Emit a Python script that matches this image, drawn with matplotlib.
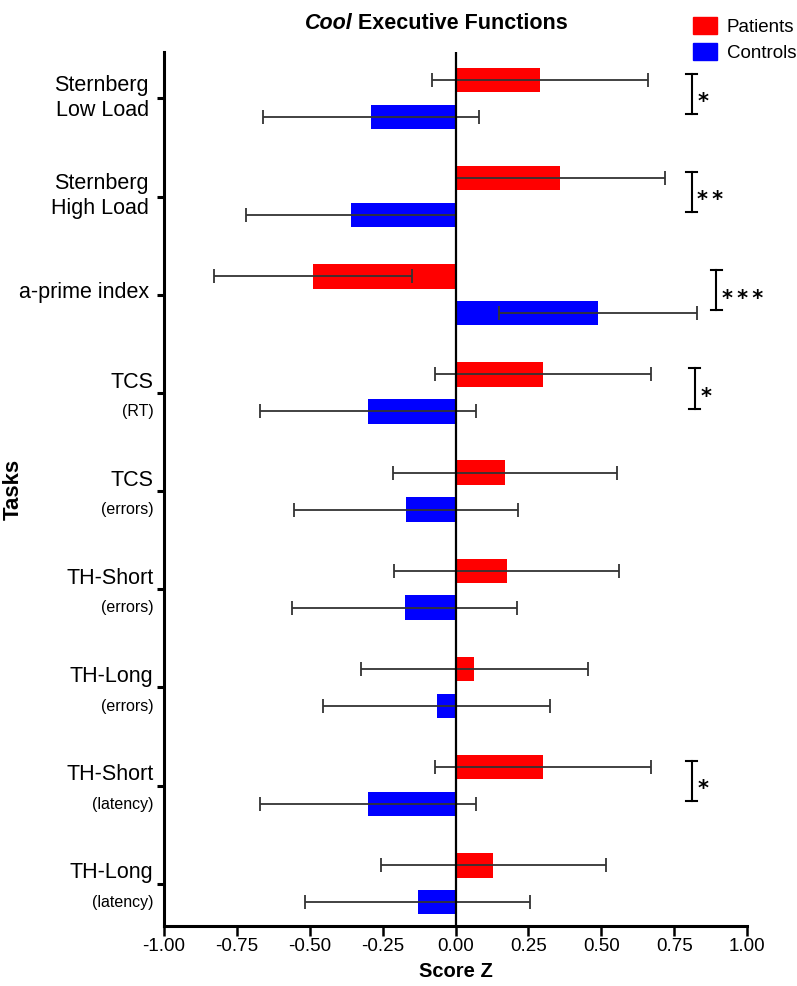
import numpy as np
import matplotlib.pyplot as plt
import matplotlib.transforms as mtransforms
from matplotlib.patches import Patch

plt.rcParams['font.family'] = ['Liberation Sans', 'DejaVu Sans']

# task labels: (main line, sub line)
tasks_main = ['Sternberg\nLow Load', 'Sternberg\nHigh Load', 'a-prime index', 'TCS', 'TCS',
              'TH-Short', 'TH-Long', 'TH-Short', 'TH-Long']
tasks_sub = ['', '', '', '(RT)', '(errors)', '(errors)', '(errors)', '(latency)', '(latency)']

patients = [0.29, 0.36, -0.49, 0.30, 0.17, 0.175, 0.065, 0.30, 0.13]
patients_err = [0.37, 0.36, 0.34, 0.37, 0.385, 0.385, 0.39, 0.37, 0.385]
controls = [-0.29, -0.36, 0.49, -0.30, -0.17, -0.175, -0.065, -0.30, -0.13]
controls_err = [0.37, 0.36, 0.34, 0.37, 0.385, 0.385, 0.39, 0.37, 0.385]

# significance marks
sig_rows = [0, 1, 2, 3, 7]
sig_x = [0.81, 0.81, 0.895, 0.82, 0.81]
sig_text = ['*', '**', '***', '*', '*']

fig = plt.figure(figsize=(7.97, 9.86), dpi=100)
ax = fig.add_axes([0.2058, 0.0609, 0.7315, 0.8861])

index = np.arange(len(patients))
bar_h = 0.25
off = 0.188
err_kw = dict(ecolor='#333333', elinewidth=1.3, capsize=5, capthick=1.3)

ax.barh(index - off, patients, bar_h, color='#ff0000', xerr=patients_err,
        error_kw=err_kw, zorder=2)
ax.barh(index + off, controls, bar_h, color='#0000ff', xerr=controls_err,
        error_kw=err_kw, zorder=2)
ax.axvline(0, color='black', lw=1.6, zorder=3)

ax.set_xlim(-1, 1)
ax.set_ylim(8.43, -0.47)
ax.set_xticks(np.arange(-1, 1.01, 0.25))
ax.set_xticklabels(['%.2f' % v for v in np.arange(-1, 1.01, 0.25)], fontsize=13.5)
ax.set_yticks(index)
ax.set_yticklabels([])
ax.tick_params(axis='x', length=7, width=1.8, direction='out', pad=2)
ax.tick_params(axis='y', length=5, width=2.2, direction='out')
for s in ['top', 'right']:
    ax.spines[s].set_visible(False)
for s in ['left', 'bottom']:
    ax.spines[s].set_linewidth(2.2)

trans = mtransforms.blended_transform_factory(ax.transAxes, ax.transData)
for i in index:
    if '\n' in tasks_main[i]:
        a, b = tasks_main[i].split('\n')
        ax.text(-0.026, i - 0.13, a, transform=trans, ha='right', va='center', fontsize=15.5)
        ax.text(-0.026, i + 0.12, b, transform=trans, ha='right', va='center', fontsize=15.5)
    elif tasks_sub[i] == '':
        ax.text(-0.026, i - 0.02, tasks_main[i], transform=trans, ha='right', va='center', fontsize=15.5)
    else:
        ax.text(-0.018, i - 0.11, tasks_main[i], transform=trans, ha='right', va='center', fontsize=15.5)
        ax.text(-0.018, i + 0.19, tasks_sub[i], transform=trans, ha='right', va='center', fontsize=11.5)

# significance brackets
for r, x, t in zip(sig_rows, sig_x, sig_text):
    y0, y1 = r - 0.25, r + 0.16
    ax.plot([x, x], [y0, y1], color='black', lw=1.5, clip_on=False)
    ax.plot([x - 0.018, x + 0.018], [y0, y0], color='black', lw=1.5, clip_on=False)
    ax.plot([x - 0.018, x + 0.018], [y1, y1], color='black', lw=1.5, clip_on=False)
    ax.text(x + 0.02, r + 0.04, '\u2009'.join(t), ha='left', va='center',
            fontsize=15, fontweight='bold', family='DejaVu Sans', clip_on=False)

ax.set_xlabel('Score Z', fontsize=14.5, fontweight='bold', labelpad=5)
ax.set_ylabel('Tasks', fontsize=16, fontweight='bold')
ax.yaxis.set_label_coords(-0.24, 0.5)

fig.text(0.442, 0.976, 'Cool', style='italic', fontweight='bold', fontsize=15.5, ha='right', va='center')
fig.text(0.442, 0.976, ' Executive Functions', fontweight='bold', fontsize=15.5, ha='left', va='center')

handles = [Patch(color='#ff0000', label='Patients'), Patch(color='#0000ff', label='Controls')]
fig.legend(handles=handles, loc='upper left', bbox_to_anchor=(0.86, 0.99), frameon=False,
           fontsize=13.5, handlelength=1.3, handleheight=1.0, handletextpad=0.5,
           labelspacing=0.35, borderaxespad=0)

plt.savefig('out.png', dpi=100)
